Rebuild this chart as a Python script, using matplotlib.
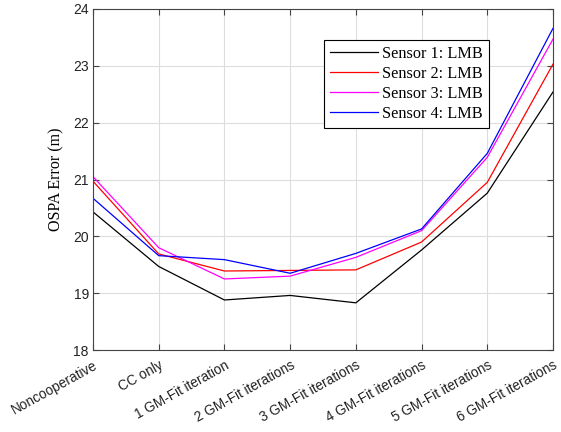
import matplotlib
matplotlib.use("Agg")
import matplotlib.pyplot as plt

categories = ["Noncooperative", "CC only", "1 GM-Fit iteration", "2 GM-Fit iterations",
              "3 GM-Fit iterations", "4 GM-Fit iterations", "5 GM-Fit iterations",
              "6 GM-Fit iterations"]
sensor1 = [20.43, 19.47, 18.88, 18.96, 18.83, 19.76, 20.76, 22.54]
sensor2 = [20.97, 19.69, 19.39, 19.40, 19.41, 19.90, 20.95, 23.03]
sensor3 = [21.05, 19.80, 19.25, 19.30, 19.63, 20.10, 21.39, 23.47]
sensor4 = [20.67, 19.66, 19.59, 19.35, 19.70, 20.13, 21.46, 23.66]
labels = ["Sensor 1: LMB", "Sensor 2: LMB", "Sensor 3: LMB", "Sensor 4: LMB"]
colors = ["black", "red", "#ff00ff", "blue"]
yticks = [18, 19, 20, 21, 22, 23, 24]

L, R, T, B = 93, 553, 9, 350
fig = plt.figure(figsize=(5.61, 4.32), dpi=100)
ax = fig.add_axes([L/561, 1-B/432, (R-L)/561, (B-T)/432])
x = list(range(len(categories)))
for s, lab, c in zip([sensor1, sensor2, sensor3, sensor4], labels, colors):
    ax.plot(x, s, color=c, lw=0.9, label=lab)

ax.set_xlim(0, len(categories)-1)
ax.set_ylim(18, 24)
ax.set_yticks(yticks)
ax.set_xticks(x)
ax.set_xticklabels(categories, rotation=29, ha="right", rotation_mode="anchor",
                   family="Liberation Sans", fontsize=9.8)
for t in ax.get_yticklabels():
    t.set_family("Liberation Sans")
    t.set_fontsize(10)
ax.grid(True, color="#dddddd", lw=0.8)
ax.tick_params(direction="in", top=True, right=True, length=4, color="#444444",
               labelcolor="#222222", pad=3)
ax.tick_params(axis="x", pad=6)
for sp in ax.spines.values():
    sp.set_color("#444444")
    sp.set_linewidth(0.8)
ax.set_ylabel("OSPA Error (m)", family="Liberation Serif", fontsize=11.5, labelpad=6)
leg = ax.legend(loc="upper left", bbox_to_anchor=((324-L)/(R-L), 1-(40-T)/(B-T)),
                prop={"family": "Liberation Serif", "size": 11.7}, fancybox=False,
                framealpha=1, edgecolor="black", borderpad=0.35, labelspacing=0.25,
                handlelength=3.0, handletextpad=0.25, borderaxespad=0)
leg.get_frame().set_linewidth(0.8)
fig.savefig("out.png", dpi=100)
